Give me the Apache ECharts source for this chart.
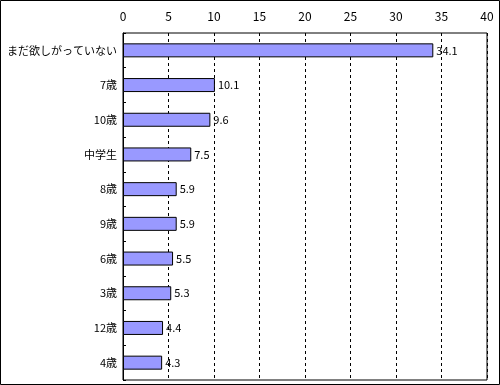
<!DOCTYPE html>
<html><head><meta charset="utf-8">
<script src="https://cdn.jsdelivr.net/npm/echarts@6/dist/echarts.min.js"></script>
<style>html,body{margin:0;padding:0;background:#fff}#c{width:500px;height:385px}</style>
</head><body><div id="c"></div>
<script>
const categories = ['まだ欲しがっていない','7歳','10歳','中学生','8歳','9歳','6歳','3歳','12歳','4歳'];
const values = [34.1, 10.1, 9.6, 7.5, 5.9, 5.9, 5.5, 5.3, 4.4, 4.3];
const xTicks = {min: 0, max: 40, interval: 5};
const FONT = '"Noto Sans CJK JP", sans-serif';
const chart = echarts.init(document.getElementById('c'), null, {renderer: 'canvas'});
chart.setOption({
  animation: false,
  backgroundColor: '#fff',
  graphic: [{type: 'rect', shape: {x: 0.5, y: 0.5, width: 499, height: 384}, style: {fill: 'none', stroke: '#000', lineWidth: 1}, z: 100}],
  grid: {left: 123, right: 13, top: 33, bottom: 5, containLabel: false, outerBoundsMode: 'none', show: true, borderColor: '#000', borderWidth: 1, backgroundColor: '#fff'},
  xAxis: {
    type: 'value', position: 'top', min: xTicks.min, max: xTicks.max, interval: xTicks.interval,
    axisLine: {show: false}, axisTick: {show: false},
    axisLabel: {color: '#000', fontFamily: FONT, fontSize: 12, margin: 11},
    splitLine: {show: true, lineStyle: {color: '#000', type: [3, 3], width: 1}}
  },
  yAxis: {
    type: 'category', inverse: true, data: categories,
    axisLine: {show: true, lineStyle: {color: '#000', width: 1}},
    axisTick: {show: true, inside: true, length: 3, lineStyle: {color: '#000'}},
    axisLabel: {color: '#000', fontFamily: FONT, fontSize: 11, margin: 6}
  },
  series: [{
    type: 'bar', data: values, barWidth: 14,
    itemStyle: {color: '#9999FF', borderColor: '#000', borderWidth: 1},
    label: {show: true, position: 'right', distance: 3, color: '#000', fontFamily: FONT, fontSize: 11}
  }]
});
</script></body></html>
